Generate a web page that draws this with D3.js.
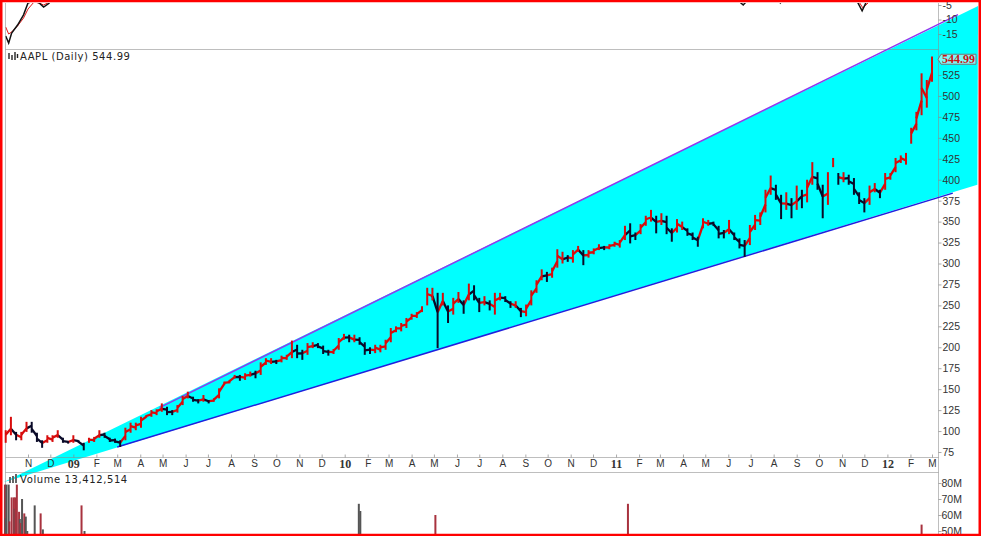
<!DOCTYPE html>
<html>
<head>
<meta charset="utf-8">
<script src="https://d3js.org/d3.v7.min.js"></script>
<style>
  html, body { margin: 0; padding: 0; background: #fff; overflow: hidden; }
  svg { display: block; }
</style>
</head>
<body>
<div id="chart"></div>
<script>
// weekly high / low, one value per week, Oct 2008 to Mar 2012
const weekHigh = [
  101,117,99,99,111,111,98,89,95,95,
  101,92,88,95,89,86,92,93,101,98,
  92,91,89,104,110,110,117,119,125,126,
  133,129,125,131,142,147,141,138,143,137,
  139,151,159,161,167,167,169,171,172,182,
  187,187,185,190,191,208,203,197,205,206,
  205,202,197,198,211,216,215,215,212,206,
  200,203,203,209,223,225,229,235,240,242,
  249,271,271,265,265,250,259,266,256,276,
  274,259,261,256,265,265,261,255,255,247,
  251,268,280,293,290,295,317,314,310,316,
  321,316,316,318,323,321,323,326,328,345,
  348,337,347,357,364,357,360,357,342,353,
  350,342,337,332,354,352,350,345,340,352,
  337,330,328,346,358,361,388,405,394,382,
  385,378,393,388,400,421,409,394,409,426,
  408,409,406,402,385,378,393,396,388,408,
  408,426,429,432,462,481,527,519,547
];
const weekLow = [
  86,95,89,89,99,98,87,80,86,87,
  92,86,85,86,86,77,86,87,92,92,
  87,86,81,89,98,101,104,116,117,119,
  123,119,119,122,131,139,135,133,135,133,
  135,139,155,157,163,160,161,165,163,167,
  179,180,180,182,185,187,187,185,191,199,
  199,192,190,192,197,209,206,206,203,191,
  192,193,194,197,206,218,219,223,233,235,
  242,250,256,199,250,229,239,253,240,256,
  256,242,250,244,239,256,254,247,247,236,
  237,250,265,280,278,283,295,300,302,301,
  314,298,307,311,316,316,317,320,319,328,
  324,328,335,345,350,336,346,335,326,337,
  340,333,328,320,342,345,345,330,330,335,
  328,318,308,322,340,346,361,382,376,353,
  364,354,364,366,373,394,388,354,370,415,
  394,397,394,382,371,361,370,385,378,388,
  400,409,420,418,443,459,477,486,517
];
// weeks where the price chart has a visible gap before the bar
const priceGaps = [16, 81, 159, 160, 174];
const lastClose = 544.99;

const priceTicks = [75,100,125,150,175,200,225,250,275,300,325,350,375,400,425,450,475,500,525];
const macdTicks = [-5, -10, -15];
const volumeTicks = [50, 60, 70, 80];
const monthLabels = ['N','D','09','F','M','A','M','J','J','A','S','O','N','D','10','F','M','A','M','J','J','A','S','O','N','D','11','F','M','A','M','J','J','A','S','O','N','D','12','F','M'];

// volume spikes, only the part above 50M is in view
const volumeDates = ['2008-10-01','2008-10-02','2008-10-03','2008-10-06','2008-10-07','2008-10-10','2008-10-13','2008-10-14','2008-10-15','2008-10-17','2008-10-20','2008-10-21','2008-10-22','2008-10-24','2008-10-27','2008-10-29','2008-10-31','2008-11-10','2008-11-18','2008-11-21','2009-01-12','2009-01-16','2010-01-20','2010-01-22','2010-05-03','2011-01-17','2012-02-16'];
const volumeValues = [79,58,79,79,56,71,71,64,71,79,62,57.5,55,70,61,59,50,66,61,51,66,50,67,62.5,60,67,54];
const volumeUp = [1,0,0,0,1,1,1,0,1,1,1,0,1,0,1,0,0,0,1,0,1,0,0,0,1,1,1];

// the indicator panel above is cut off, only the bits under -3 show
const macdDates = ['2008-10-02','2008-10-06','2008-10-10','2008-10-18','2008-10-26','2008-11-01','2008-11-09','2008-11-16','2008-11-22','2008-11-30'];
const macdLine = [-15.7,-18.1,-14.7,-11.9,-8.4,-4.3,-3.6,-4.3,-5.7,-4.3];
const macdSignal = [-12.6,-15,-14.3,-12.2,-9.5,-6.4,-4,-4.3,-5,-4];
const macdDip1Dates = ['2011-06-15','2011-06-21','2011-06-26'];
const macdDip1 = [-3.6,-5,-3.6];
const macdDip2Dates = ['2011-08-08','2011-08-10','2011-08-12'];
const macdDip2 = [-3.6,-4.3,-3.6];
const macdDip3Dates = ['2011-11-21','2011-11-28','2011-12-03','2011-12-07'];
const macdDip3 = [-3.6,-7,-4.3,-3];
const macdDip3SignalDates = ['2011-11-24','2011-11-29','2011-12-06'];
const macdDip3Signal = [-4,-6,-4.3];

// hand drawn trend channel
const wedgeDates = ['2008-09-29','2012-05-02','2012-05-01'];
const wedgePrices = [39, 607.5, 394];
const upperDates = ['2009-04-27','2012-04-05'];
const upperPrices = [128, 597];
const lowerDates = ['2009-03-01','2012-03-29'];
const lowerPrices = [81, 384];

const width = 981;
const height = 536;
const left = 5.5;
const right = 938.5;
const panelTop = 49.5;
const axisY = 457.5;
const volumeTop = 472.5;

const parse = d3.utcParse('%Y-%m-%d');

const x = d3.scaleUtc()
  .domain([parse('2008-11-01'), parse('2012-03-01')])
  .range([28, 932]);

const y = d3.scaleLinear().domain([75, 525]).range([452, 75]);
const yMacd = d3.scaleLinear().domain([-5, -15]).range([5, 34]);
const yVol = d3.scaleLinear().domain([50, 80]).range([531, 483]);

const weeks = d3.utcThursday.range(parse('2008-10-02'), parse('2012-03-02'));
const months = d3.utcMonth.range(parse('2008-11-01'), parse('2012-03-02'));

const svg = d3.select('#chart').append('svg')
  .attr('width', width)
  .attr('height', height);

svg.append('rect').attr('width', width).attr('height', height).attr('fill', '#fff');

svg.append('clipPath').attr('id', 'macd-clip')
  .append('rect').attr('x', left).attr('y', 3).attr('width', right - left).attr('height', panelTop - 3);

// channel fill goes under everything, also over the axis area
svg.append('polygon')
  .attr('fill', '#00ffff')
  .attr('points', wedgeDates.map((d, i) => [x(parse(d)), y(wedgePrices[i])].join(',')).join(' '));

// panel frame
const frameColor = '#888';
[[left, 3, left, height], [right, 3, right, height], [left, panelTop, right, panelTop], [left, axisY, right, axisY], [left, volumeTop, right, volumeTop]]
  .forEach(l => {
    svg.append('line')
      .attr('x1', l[0]).attr('y1', l[1]).attr('x2', l[2]).attr('y2', l[3])
      .attr('stroke', frameColor).attr('stroke-opacity', 0.55);
  });

// channel lines
const lineGen = d3.line().x(d => x(d[0])).y(d => y(d[1]));
svg.append('path')
  .attr('d', lineGen(upperDates.map((d, i) => [parse(d), upperPrices[i]])))
  .attr('fill', 'none').attr('stroke', '#9038ee').attr('stroke-width', 1.5);
svg.append('path')
  .attr('d', lineGen(lowerDates.map((d, i) => [parse(d), lowerPrices[i]])))
  .attr('fill', 'none').attr('stroke', '#2020dd').attr('stroke-width', 1.5);

// price: thick line between the weeks, high-low wick on top
const mid = i => (weekHigh[i] + weekLow[i]) / 2;
const isUp = i => i === 0 || mid(i) >= mid(i - 1);
const priceColor = i => isUp(i) ? '#d80c0c' : '#0a0a28';
const price = svg.append('g');

price.selectAll('line.seg')
  .data(weeks.slice(1).map((d, i) => i + 1).filter(i => !priceGaps.includes(i)))
  .join('line')
  .attr('class', 'seg')
  .attr('x1', i => x(weeks[i - 1]))
  .attr('x2', i => x(weeks[i]))
  .attr('y1', i => y(isUp(i) ? weekLow[i - 1] * 0.35 + weekHigh[i - 1] * 0.65 : weekLow[i - 1] * 0.65 + weekHigh[i - 1] * 0.35))
  .attr('y2', i => y(isUp(i) ? weekLow[i] * 0.65 + weekHigh[i] * 0.35 : weekLow[i] * 0.35 + weekHigh[i] * 0.65))
  .attr('stroke', priceColor)
  .attr('stroke-width', 2.3);

price.selectAll('line.bar')
  .data(weeks.map((d, i) => i))
  .join('line')
  .attr('class', 'bar')
  .attr('x1', i => x(weeks[i]))
  .attr('x2', i => x(weeks[i]))
  .attr('y1', i => y(weekHigh[i]))
  .attr('y2', i => y(weekLow[i]))
  .attr('stroke', priceColor)
  .attr('stroke-width', 2);

// indicator panel
const macd = svg.append('g').attr('clip-path', 'url(#macd-clip)');
const macdGen = d3.line().x(d => x(d[0])).y(d => yMacd(d[1]));
function macdPath(dates, values, color, w) {
  macd.append('path')
    .attr('d', macdGen(dates.map((d, i) => [parse(d), values[i]])))
    .attr('fill', 'none').attr('stroke', color).attr('stroke-width', w);
}
macdPath(macdDates, macdSignal, '#e01818', 1);
macdPath(macdDates, macdLine, '#111', 1.5);
macdPath(macdDip1Dates, macdDip1, '#111', 1.5);
macdPath(macdDip2Dates, macdDip2, '#333', 1.5);
macdPath(macdDip3SignalDates, macdDip3Signal, '#e01818', 1);
macdPath(macdDip3Dates, macdDip3, '#111', 1.5);

// volume
svg.append('g').selectAll('rect')
  .data(volumeDates.map((d, i) => i))
  .join('rect')
  .attr('x', i => x(parse(volumeDates[i])) - 1)
  .attr('y', i => yVol(volumeValues[i]))
  .attr('width', 2)
  .attr('height', i => height - yVol(volumeValues[i]))
  .attr('fill', i => volumeUp[i] ? '#a8323e' : '#555');

// axes
function styleAxis(g, size) {
  g.select('.domain').remove();
  g.selectAll('.tick line').attr('stroke', frameColor).attr('stroke-opacity', 0.7);
  g.selectAll('.tick text')
    .attr('font-family', 'Liberation Sans, Arial, sans-serif')
    .attr('font-size', size)
    .attr('fill', '#333');
}

svg.append('g')
  .attr('transform', `translate(${right},0)`)
  .call(d3.axisRight(y).tickValues(priceTicks).tickSize(3).tickPadding(1))
  .call(g => styleAxis(g, 10.5));

svg.append('g')
  .attr('transform', `translate(${right},0)`)
  .call(d3.axisRight(yMacd).tickValues(macdTicks).tickSize(3).tickPadding(1).tickFormat(d => d))
  .call(g => styleAxis(g, 10.5));

svg.append('g')
  .attr('transform', `translate(${right},0)`)
  .call(d3.axisRight(yVol).tickValues(volumeTicks).tickSize(3).tickPadding(0).tickFormat(d => d + 'M'))
  .call(g => styleAxis(g, 10.5));

svg.append('g')
  .attr('transform', `translate(0,${axisY - 3})`)
  .call(d3.axisBottom(x).tickValues(months).tickSize(3).tickPadding(2).tickFormat((d, i) => monthLabels[i]))
  .call(g => styleAxis(g, 10))
  .call(g => g.selectAll('.tick text')
    .attr('font-weight', (d, i) => /\d/.test(monthLabels[i]) ? 'bold' : 'normal')
    .attr('font-family', (d, i) => /\d/.test(monthLabels[i]) ? 'Liberation Serif, serif' : 'Liberation Sans, Arial, sans-serif')
    .attr('font-size', (d, i) => /\d/.test(monthLabels[i]) ? 12 : 10));

// titles
svg.append('text')
  .attr('x', 20).attr('y', 60)
  .attr('font-family', 'DejaVu Sans, Verdana, sans-serif')
  .attr('font-size', 10).attr('letter-spacing', 0.55).attr('fill', '#222')
  .text('AAPL (Daily) 544.99');

svg.append('text')
  .attr('x', 20).attr('y', 483)
  .attr('font-family', 'DejaVu Sans, Verdana, sans-serif')
  .attr('font-size', 10).attr('letter-spacing', 0.6).attr('fill', '#222')
  .text('Volume 13,412,514');

// little legend icons
const candleIcon = svg.append('g').attr('stroke', '#222').attr('stroke-width', 1.4);
[[9, 53, 59], [12, 55, 60], [15, 52, 60], [17.5, 54, 58]].forEach(b => {
  candleIcon.append('line').attr('x1', b[0]).attr('x2', b[0]).attr('y1', b[1]).attr('y2', b[2]);
});
const volumeIcon = svg.append('g').attr('fill', '#666');
[[9, 477], [12, 476], [15, 474]].forEach(b => {
  volumeIcon.append('rect').attr('x', b[0]).attr('y', b[1]).attr('width', 2).attr('height', 483 - b[1]);
});

// last price flag
const flagY = y(lastClose) + 1;
svg.append('path')
  .attr('d', `M938,${flagY} L941,${flagY - 5} H976 V${flagY + 5} H941 Z`)
  .attr('fill', '#e4f2f2').attr('fill-opacity', 0.55)
  .attr('stroke', '#777').attr('stroke-width', 1);
svg.append('text')
  .attr('x', 942).attr('y', flagY + 4)
  .attr('font-family', 'Liberation Serif, serif')
  .attr('font-size', 12).attr('font-weight', 'bold')
  .attr('fill', '#d01010')
  .text(lastClose.toFixed(2));

// red window frame
svg.append('rect')
  .attr('x', 1.25).attr('y', 1).attr('width', width - 2.5).attr('height', height - 2)
  .attr('fill', 'none').attr('stroke', '#ff0000').attr('stroke-width', 2.5);
</script>
</body>
</html>
